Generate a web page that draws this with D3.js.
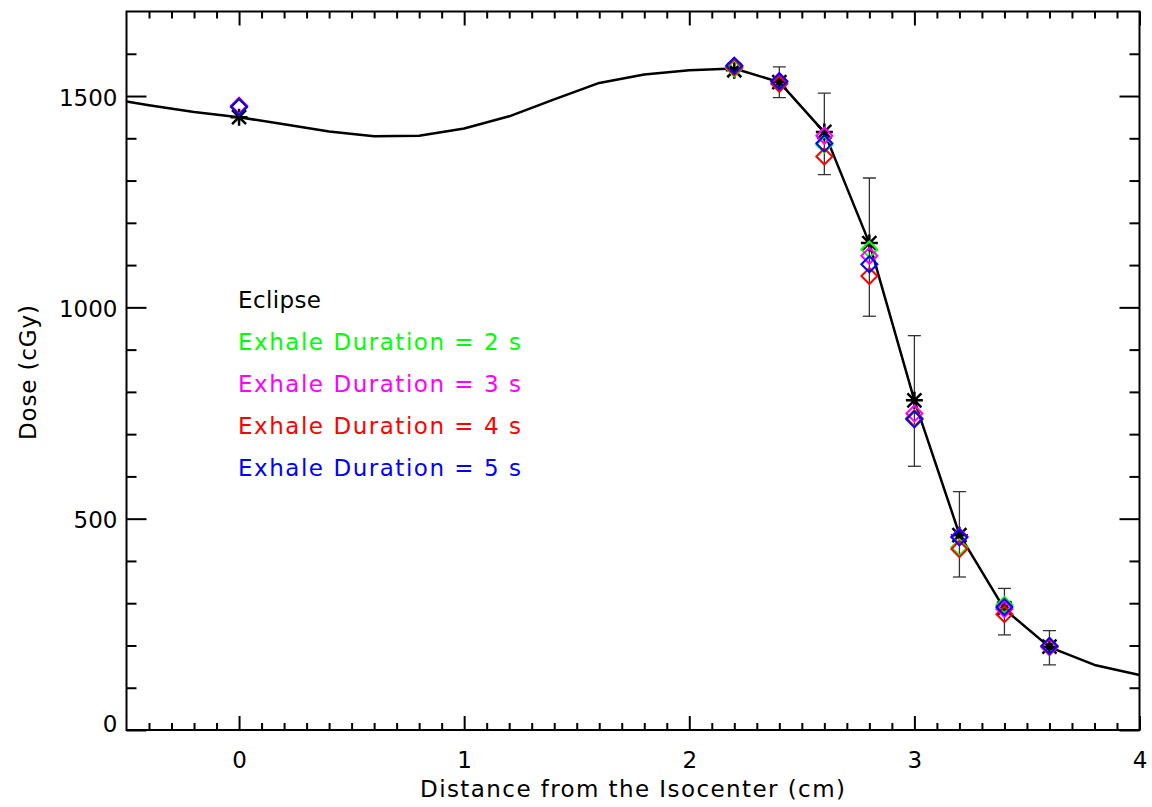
<!DOCTYPE html>
<html>
<head>
<meta charset="utf-8">
<script src="https://cdn.jsdelivr.net/npm/d3@7"></script>
<style>
  html, body { margin: 0; padding: 0; background: #fff; }
  svg { display: block; }
  text { font-family: "DejaVu Sans", sans-serif; }
</style>
</head>
<body>
<svg id="chart" width="1152" height="807"></svg>
<script>
// ---------------- data ----------------
const curveX    = [-0.5, -0.4, -0.2, 0, 0.2, 0.4, 0.6, 0.8, 1.0, 1.2, 1.4, 1.6, 1.8, 2.0, 2.2, 2.4, 2.6, 2.8, 3.0, 3.2, 3.4, 3.6, 3.8, 4.0];
const curveDose = [1487, 1478, 1462, 1450, 1433, 1416, 1405, 1406, 1423, 1452, 1492, 1531, 1551, 1561, 1565, 1533, 1414, 1152, 780, 463, 286, 196, 154, 130];

const positions  = [0, 2.2, 2.4, 2.6, 2.8, 3.0, 3.2, 3.4, 3.6];
const eclipsePts = [1450, 1561, 1533, 1415, 1152, 780, 461, 288, 197];
const dose2s     = [1474, 1565, 1533, 1385, 1137, 738, 432, 296, 198];
const dose3s     = [1477, 1570, 1535, 1406, 1122, 749, 458, 286, 196];
const dose4s     = [1476, 1568, 1529, 1357, 1074, 737, 428, 274, 198];
const dose5s     = [1474, 1572, 1535, 1388, 1102, 735, 456, 291, 199];
const errLow     = [null, null, 1496, 1314, 979, 624, 362, 225, 154];
const errHigh    = [null, null, 1569, 1507, 1306, 933, 564, 335, 235];

const seriesNames  = ["Exhale Duration = 2 s", "Exhale Duration = 3 s", "Exhale Duration = 4 s", "Exhale Duration = 5 s"];
const seriesColors = ["#00ff00", "#ff00ff", "#ff0000", "#0000ff"];
const seriesData   = [dose2s, dose3s, dose4s, dose5s];

const xMajorTicks = [0, 1, 2, 3, 4];
const yMajorTicks = [0, 500, 1000, 1500];
const xTitle = "Distance from the Isocenter (cm)";
const yTitle = "Dose (cGy)";

// ---------------- layout ----------------
const svg = d3.select("#chart");
const L = 126.5, R = 1139.5, T = 11.5, B = 730;
const x = d3.scaleLinear().domain([-0.5, 4]).range([L, R]);
const y = d3.scaleLinear().domain([0, 1700]).range([B, T]);

const xMinor = d3.range(-4, 41).map(d => d / 10).filter(d => !xMajorTicks.includes(d));
const yMinor = d3.range(1, 17).map(d => d * 100).filter(d => !yMajorTicks.includes(d));

function styleAxis(g) {
  g.select(".domain").remove();
  g.selectAll(".tick line").attr("stroke", "#000").attr("stroke-width", 2);
  g.selectAll("text").attr("fill", "#000").attr("font-size", 23);
}

// bottom
svg.append("g").attr("transform", `translate(0,${B})`)
  .call(d3.axisBottom(x).tickValues(xMajorTicks).tickSizeInner(-14).tickSizeOuter(0).tickPadding(21.5).tickFormat(d3.format("d")))
  .call(styleAxis);
svg.append("g").attr("transform", `translate(0,${B})`)
  .call(d3.axisBottom(x).tickValues(xMinor).tickSizeInner(-7).tickSizeOuter(0).tickFormat(""))
  .call(styleAxis);
// top
svg.append("g").attr("transform", `translate(0,${T})`)
  .call(d3.axisTop(x).tickValues(xMajorTicks).tickSizeInner(-14).tickSizeOuter(0).tickFormat(""))
  .call(styleAxis);
svg.append("g").attr("transform", `translate(0,${T})`)
  .call(d3.axisTop(x).tickValues(xMinor).tickSizeInner(-7).tickSizeOuter(0).tickFormat(""))
  .call(styleAxis);
// left
const gl = svg.append("g").attr("transform", `translate(${L},0)`)
  .call(d3.axisLeft(y).tickValues(yMajorTicks).tickSizeInner(-20).tickSizeOuter(0).tickPadding(9).tickFormat(d3.format("d")))
  .call(styleAxis);
gl.selectAll(".tick text").attr("dy", d => d === 0 ? "0.07em" : "0.4em");
svg.append("g").attr("transform", `translate(${L},0)`)
  .call(d3.axisLeft(y).tickValues(yMinor).tickSizeInner(-10).tickSizeOuter(0).tickFormat(""))
  .call(styleAxis);
// right
svg.append("g").attr("transform", `translate(${R},0)`)
  .call(d3.axisRight(y).tickValues(yMajorTicks).tickSizeInner(-20).tickSizeOuter(0).tickFormat(""))
  .call(styleAxis);
svg.append("g").attr("transform", `translate(${R},0)`)
  .call(d3.axisRight(y).tickValues(yMinor).tickSizeInner(-10).tickSizeOuter(0).tickFormat(""))
  .call(styleAxis);

// frame
svg.append("rect").attr("x", L).attr("y", T).attr("width", R - L).attr("height", B - T)
  .attr("fill", "none").attr("stroke", "#000").attr("stroke-width", 2);

// axis titles
svg.append("text").attr("x", (L + R) / 2 - 0.5).attr("y", 797).attr("text-anchor", "middle")
  .attr("font-size", 23).attr("textLength", 425).attr("lengthAdjust", "spacing").text(xTitle);
svg.append("text").attr("transform", "translate(36,372.5) rotate(-90)").attr("text-anchor", "middle")
  .attr("font-size", 23).attr("textLength", 135).attr("lengthAdjust", "spacing").text(yTitle);

// clip
svg.append("clipPath").attr("id", "clip").append("rect")
  .attr("x", L).attr("y", T).attr("width", R - L).attr("height", B - T);
const plot = svg.append("g").attr("clip-path", "url(#clip)");

// Eclipse curve
const line = d3.line().x(d => x(d[0])).y(d => y(d[1]));
plot.append("path").datum(d3.zip(curveX, curveDose)).attr("d", line)
  .attr("fill", "none").attr("stroke", "#000").attr("stroke-width", 2.5).attr("stroke-linejoin", "round");

// error bars
const errData = positions.map((p, i) => ({ p, lo: errLow[i], hi: errHigh[i] })).filter(d => d.lo != null);
const eb = plot.append("g").attr("stroke", "#333").attr("stroke-width", 1.3);
eb.selectAll("line.v").data(errData).join("line").attr("class", "v")
  .attr("x1", d => x(d.p)).attr("x2", d => x(d.p)).attr("y1", d => y(d.lo)).attr("y2", d => y(d.hi));
eb.selectAll("line.lo").data(errData).join("line").attr("class", "lo")
  .attr("x1", d => x(d.p) - 6.5).attr("x2", d => x(d.p) + 6.5).attr("y1", d => y(d.lo)).attr("y2", d => y(d.lo));
eb.selectAll("line.hi").data(errData).join("line").attr("class", "hi")
  .attr("x1", d => x(d.p) - 6.5).attr("x2", d => x(d.p) + 6.5).attr("y1", d => y(d.hi)).attr("y2", d => y(d.hi));

// asterisks (Eclipse)
const s = 8.5, sd = 7;
const asteriskPath = `M${-s},0L${s},0M0,${-s}L0,${s}M${-sd},${-sd}L${sd},${sd}M${-sd},${sd}L${sd},${-sd}`;
plot.append("g").selectAll("path").data(d3.zip(positions, eclipsePts)).join("path")
  .attr("transform", d => `translate(${x(d[0])},${y(d[1])})`)
  .attr("d", asteriskPath).attr("fill", "none").attr("stroke", "#000").attr("stroke-width", 2.5);

// diamonds
const h = 8;
const diamondPath = `M0,${-h}L${h},0L0,${h}L${-h},0Z`;
seriesData.forEach((vals, k) => {
  plot.append("g").selectAll("path").data(d3.zip(positions, vals)).join("path")
    .attr("transform", d => `translate(${x(d[0])},${y(d[1])})`)
    .attr("d", diamondPath).attr("fill", "none").attr("stroke", seriesColors[k]).attr("stroke-width", 2);
});

// legend
const lg = svg.append("g");
lg.append("text").attr("x", 238).attr("y", 308).attr("font-size", 23).attr("fill", "#000")
  .attr("textLength", 83).attr("lengthAdjust", "spacing").text("Eclipse");
seriesNames.forEach((name, k) => {
  lg.append("text").attr("x", 238).attr("y", 350 + 42 * k).attr("font-size", 23).attr("fill", seriesColors[k])
    .attr("textLength", 283).attr("lengthAdjust", "spacing").text(name);
});
</script>
</body>
</html>
